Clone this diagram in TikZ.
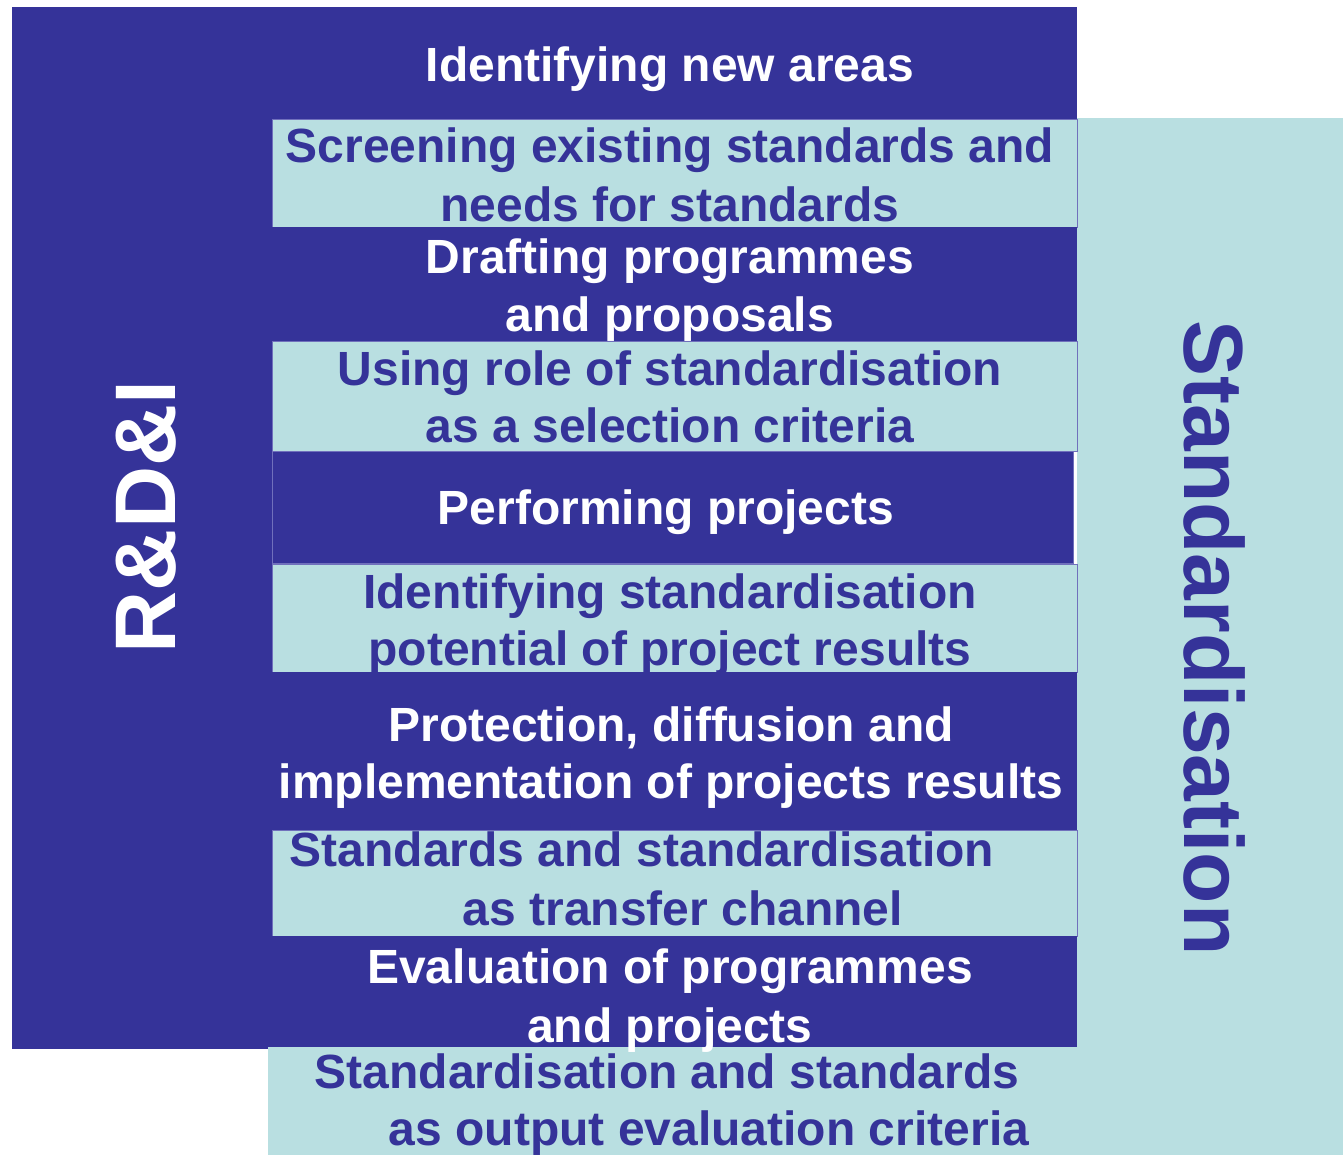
\documentclass[tikz,border=0pt]{standalone}
\usepackage{fontspec}
\setmainfont{Liberation Sans}
\definecolor{dk}{RGB}{53,51,153}
\definecolor{lt}{RGB}{185,223,225}
\definecolor{edgec}{RGB}{112,112,188}
\begin{document}
\begin{tikzpicture}[x=1pt,y=-1pt,
  wtxt/.style={text=white,font=\fontsize{48}{57.6}\selectfont\bfseries,anchor=base,inner sep=0pt},
  btxt/.style={text=dk,font=\fontsize{48}{57.6}\selectfont\bfseries,anchor=base,inner sep=0pt},
  darkbar/.style={fill=dk,draw=edgec,line width=0.8pt},
  lightbar/.style={fill=lt,draw=edgec,line width=0.8pt}]
\useasboundingbox (0,0) rectangle (1343,1155);
% Standardisation area (light)
\fill[lt] (1077,118) rectangle (1343,1155);
% R&D&I column (dark)
\fill[dk] (12,7) rectangle (272,1049);
% stripes
\fill[dk] (272,7) rectangle (1077,119);
\draw[lightbar] (272,119) rectangle (1077,227);
\fill[dk] (272,227) rectangle (1077,341);
\draw[lightbar] (272,341) rectangle (1077,451);
\draw[darkbar] (272,451) rectangle (1073,563);
\draw[lightbar] (272,564) rectangle (1077,672);
\fill[dk] (272,672) rectangle (1077,830);
\draw[lightbar] (272,830) rectangle (1077,936);
\fill[dk] (272,936) rectangle (1077,1047);
\fill[lt] (268,1047) rectangle (1343,1155);
% texts
\node[wtxt] (t1) at (670,82) {Identifying new areas};
\node[btxt] (t2a) at (670,163) {Screening existing standards and};
\node[btxt] (t2b) at (670,222) {needs for standards};
\node[wtxt] (t3a) at (670,274) {Drafting programmes};
\node[wtxt] (t3b) at (670,331) {and proposals};
\node[btxt] (t4a) at (670,385) {Using role of standardisation};
\node[btxt] (t4b) at (670,442) {as a selection criteria};
\node[wtxt] (t5) at (666,524) {Performing projects};
\node[btxt] (t6a) at (670,608) {Identifying standardisation};
\node[btxt] (t6b) at (670,665) {potential of project results};
\node[wtxt] (t7a) at (671,741) {Protection, diffusion and};
\node[wtxt] (t7b) at (671,798) {implementation of projects results};
\node[btxt] (t8a) at (642,866) {Standards and standardisation};
\node[btxt] (t8b) at (683,925) {as transfer channel};
\node[wtxt] (t9a) at (670,983) {Evaluation of programmes};
\node[wtxt] (t9b) at (670,1042) {and projects};
\node[btxt] (t10a) at (667,1088) {Standardisation and standards};
\node[btxt] (t10b) at (709,1145) {as output evaluation criteria};
% side labels
\node[rotate=90,anchor=base,inner sep=0pt,text=white,font=\fontsize{86}{100}\selectfont\bfseries] (rdi) at (175,517) {R\&D\&I};
\node[rotate=-90,anchor=base,inner sep=0pt,text=dk,font=\fontsize{84}{100}\selectfont\bfseries] (std) at (1184,638) {Standardisation};
\end{tikzpicture}
\end{document}
